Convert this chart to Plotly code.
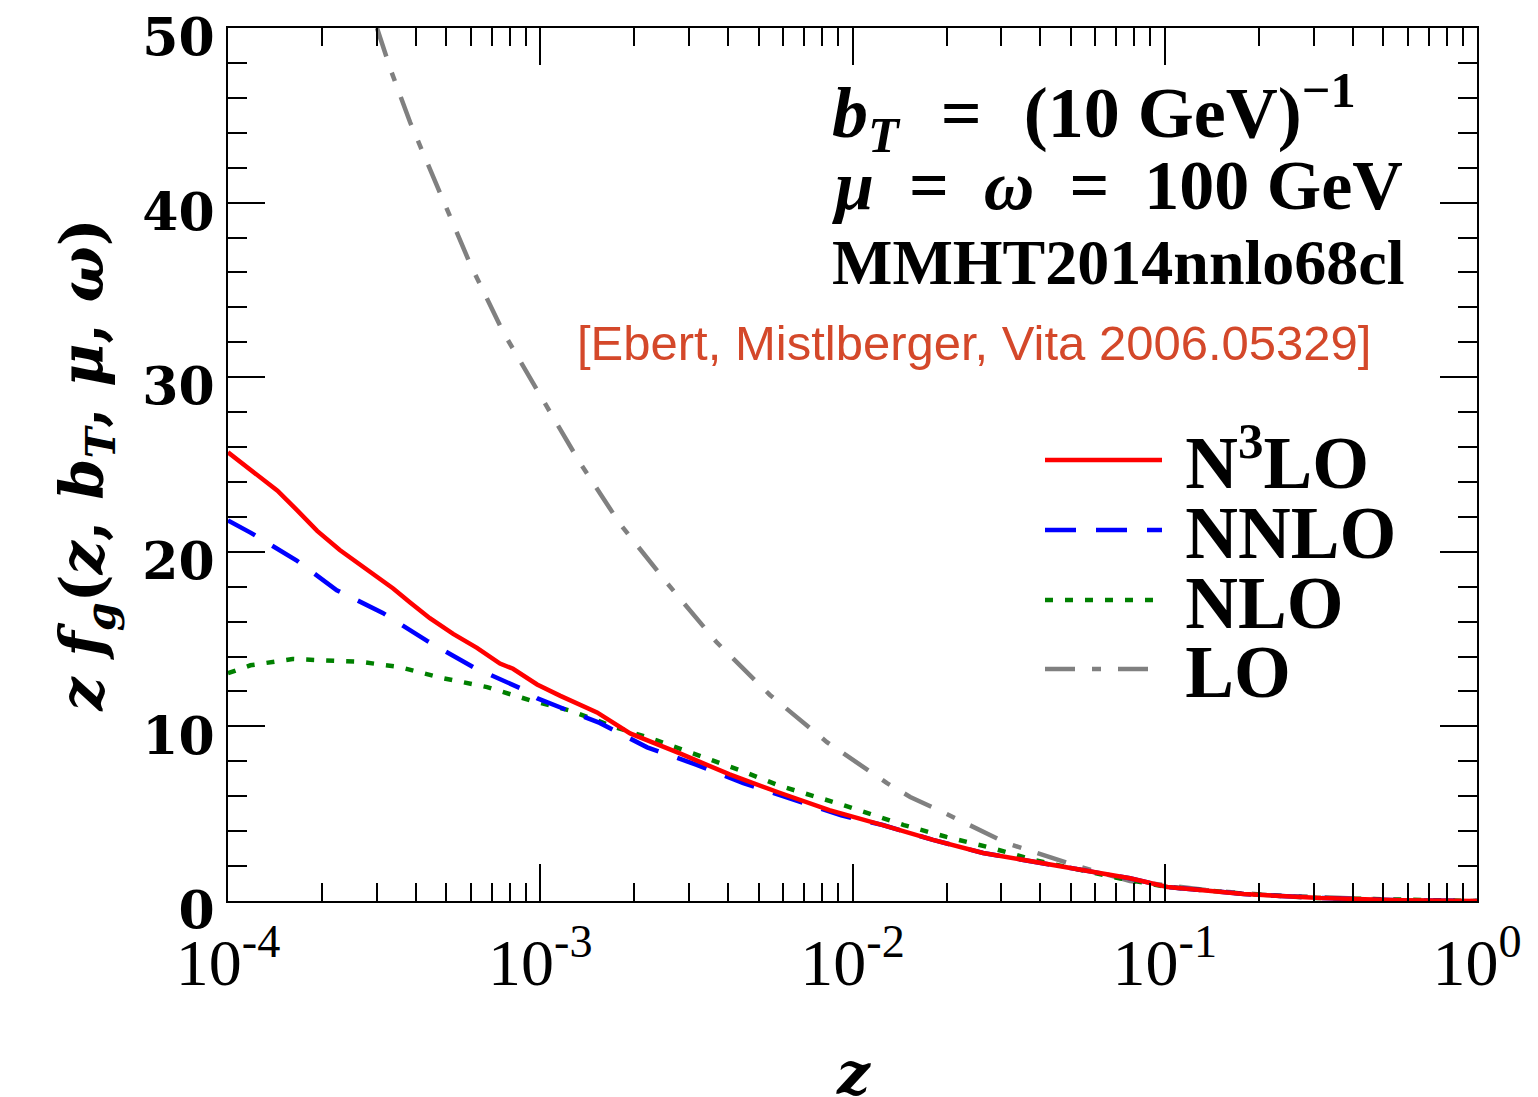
import plotly.graph_objects as go

# ---------------- data ----------------
n3lo_z = [1.0e-4, 1.18e-4, 1.44e-4, 1.66e-4, 1.93e-4, 2.28e-4, 2.79e-4, 3.38e-4, 3.83e-4,
          4.43e-4, 5.26e-4, 6.27e-4, 7.43e-4, 8.18e-4, 9.77e-4, 1.16e-3, 1.52e-3, 1.94e-3,
          2.8e-3, 4.04e-3, 5.84e-3, 8.43e-3, 1.25e-2, 1.81e-2, 2.62e-2, 3.31e-2, 5.05e-2,
          7.74e-2, 0.102, 0.179, 0.316, 0.566, 1.0]
n3lo_v = [25.7, 24.7, 23.5, 22.4, 21.2, 20.1, 19.0, 17.9, 17.1,
          16.2, 15.3, 14.5, 13.6, 13.3, 12.4, 11.75, 10.8, 9.6,
          8.45, 7.25, 6.2, 5.2, 4.35, 3.5, 2.75, 2.45, 1.9,
          1.3, 0.8, 0.4, 0.17, 0.05, 0.0]

nnlo_z = [1.0e-4, 1.18e-4, 1.66e-4, 2.23e-4, 3.13e-4, 4.34e-4, 6.09e-4, 8.6e-4, 9.8e-4,
          1.55e-3, 2.2e-3, 3.17e-3, 4.47e-3, 6.45e-3, 9.2e-3, 1.25e-2, 1.81e-2, 2.62e-2,
          3.31e-2, 5.05e-2, 7.74e-2, 0.102, 0.179, 0.316, 0.566, 1.0]
nnlo_v = [21.8, 21.1, 19.5, 17.8, 16.5, 14.9, 13.4, 12.2, 11.6,
          10.2, 8.8, 7.8, 6.75, 5.8, 4.9, 4.35, 3.5, 2.75,
          2.45, 1.9, 1.3, 0.8, 0.4, 0.17, 0.05, 0.0]

nlo_z = [1.0e-4, 1.18e-4, 1.61e-4, 2.12e-4, 2.65e-4, 3.55e-4, 4.77e-4, 6.76e-4, 9.27e-4,
         1.25e-3, 1.71e-3, 2.36e-3, 3.17e-3, 4.35e-3, 5.84e-3, 8.0e-3, 9.33e-3, 1.25e-2,
         1.46e-2, 2.0e-2, 2.8e-2, 3.81e-2, 5.2e-2, 7.08e-2, 0.102, 0.185, 0.308, 0.566, 1.0]
nlo_v = [13.05, 13.5, 13.86, 13.8, 13.7, 13.4, 12.8, 12.25, 11.5,
         10.9, 10.0, 9.2, 8.4, 7.5, 6.6, 5.9, 5.5, 4.75,
         4.35, 3.67, 3.03, 2.35, 1.83, 1.32, 0.8, 0.4, 0.17, 0.05, 0.0]

lo_z = [3.0e-4, 3.32e-4, 3.83e-4, 4.78e-4, 5.96e-4, 7.6e-4, 9.76e-4, 1.1e-3, 1.34e-3,
        1.8e-3, 2.55e-3, 3.68e-3, 5.44e-3, 8.28e-3, 1.29e-2, 1.53e-2, 1.94e-2, 3.13e-2,
        5.36e-2, 7.74e-2, 0.1355, 0.212, 0.566, 1.0]
lo_v = [50.0, 47.6, 44.6, 40.5, 36.5, 32.6, 29.2, 27.7, 25.1,
        21.6, 18.2, 14.8, 11.8, 9.1, 6.75, 5.96, 5.1, 3.3,
        1.95, 1.15, 0.63, 0.34, 0.05, 0.0]

series_names = ["\u00a0N<sup>3</sup>LO", "\u00a0NNLO", "\u00a0NLO", "\u00a0LO"]

x_tickvals = [1e-4, 1e-3, 1e-2, 1e-1, 1e0]
x_ticktext = ["10<sup>-4</sup>", "10<sup>-3</sup>", "10<sup>-2</sup>", "10<sup>-1</sup>", "10<sup>0</sup>"]
x_minor = [k * 10 ** e for e in (-4, -3, -2, -1) for k in range(2, 10)]

y_tickvals = [0, 10, 20, 30, 40, 50]
y_ticktext = ["0", "10", "20", "30", "40", "50"]

# ---------------- figure ----------------
# page has an 8px body margin; plot area target (page px): x 228..1477, y 28..901
OFF = 8
W, H = 1538 - OFF, 1097 - OFF
PL, PR, PT, PB = 228, 1477, 28, 901
L, T = PL - OFF, PT - OFF
R = W - (PL - OFF) - (PR - PL)
B = H - (PT - OFF) - (PB - PT)

fig = go.Figure()
styles = [
    dict(color="#ff0000", dash="solid"),
    dict(color="#0000ff", dash="31px,20px"),
    dict(color="#008000", dash="8px,12px"),
    dict(color="#808080", dash="30px,17px,9px,17px"),
]
data = [(n3lo_z, n3lo_v), (nnlo_z, nnlo_v), (nlo_z, nlo_v), (lo_z, lo_v)]
legends = ["legend", "legend2", "legend3", "legend4"]
order = [3, 2, 1, 0]  # draw LO first so N3LO on top
for i in order:
    zz, vv = data[i]
    fig.add_trace(go.Scatter(
        x=zz, y=vv, mode="lines", name=series_names[i],
        line=dict(color=styles[i]["color"], dash=styles[i]["dash"], width=4.5),
        legend=legends[i], showlegend=True,
    ))


def py(pix):
    return (PB - pix) / (PB - PT)


def px(pix):
    return (pix - PL) / (PR - PL)


leg_rows = [460, 530, 600, 669]
leg_common = dict(
    font=dict(family="Liberation Serif", size=73, color="black", weight="bold"),
    bgcolor="rgba(0,0,0,0)", borderwidth=0, itemwidth=117,
    xanchor="left", yanchor="middle", x=px(1040),
)
layout_legends = {}
for k, name in enumerate(legends):
    layout_legends[name] = dict(leg_common, y=py(leg_rows[k]))

axis_font = dict(family="Liberation Serif", size=66, color="black")
fig.update_layout(
    width=W, height=H,
    margin=dict(l=L, r=R, t=T, b=B, autoexpand=False),
    paper_bgcolor="white", plot_bgcolor="white",
    **layout_legends,
    xaxis=dict(
        type="log", range=[-4, 0], showgrid=False, zeroline=False,
        showline=True, linecolor="black", linewidth=2, mirror="allticks",
        ticks="inside", ticklen=37, tickwidth=2, tickcolor="black",
        tickmode="array", tickvals=x_tickvals, ticktext=x_ticktext,
        tickfont=axis_font, ticklabelstandoff=3, ticklabeloverflow="allow",
        minor=dict(ticks="inside", ticklen=18, tickwidth=2, tickcolor="black",
                   tickmode="array", tickvals=x_minor, showgrid=False),
    ),
    yaxis=dict(
        range=[0, 50.0001], showgrid=False, zeroline=False,
        showline=True, linecolor="black", linewidth=2, mirror="allticks",
        ticks="inside", ticklen=37, tickwidth=2, tickcolor="black",
        tickmode="array", tickvals=y_tickvals, ticktext=y_ticktext,
        tickfont=dict(family="DejaVu Serif", size=52, color="black", weight="bold"),
        ticklabelstandoff=1, ticklabelshift=9, ticklabeloverflow="allow",
        minor=dict(ticks="inside", ticklen=19, tickwidth=2, tickcolor="black",
                   dtick=2, tick0=0, showgrid=False),
        title=dict(text="<b><i>z f</i><sub><i>g</i></sub>(<i>z</i>, <i>b</i><sub><i>T</i></sub>, <i>μ</i>, <i>ω</i>)</b>",
                   font=dict(family="DejaVu Serif", size=59, color="black"),
                   standoff=20),
    ),
)

# x-axis title
fig.add_annotation(xref="paper", yref="paper", x=px(853), y=py(1074), xanchor="center", yanchor="middle",
                   showarrow=False, font=dict(family="DejaVu Serif", size=58, color="black"),
                   text="<b><i>z</i></b>")

ann_font = dict(family="Liberation Serif", size=64, color="black")
fig.add_annotation(xref="paper", yref="paper", x=px(830), y=py(113), xanchor="left", yanchor="middle",
                   showarrow=False, font=dict(family="Liberation Serif", size=72, color="black"),
                   text="<b><i>b</i><sub><i>T</i></sub>\u2002\u200a=\u2002\u200a(10 GeV)<sup>−1</sup></b>")
fig.add_annotation(xref="paper", yref="paper", x=px(830), y=py(185), xanchor="left", yanchor="middle",
                   showarrow=False, font=dict(family="Liberation Serif", size=70, color="black"),
                   text="<b><i>μ</i>\u2002=\u2002<i>ω</i>\u2002=\u2002100 GeV</b>")
fig.add_annotation(xref="paper", yref="paper", x=px(830), y=py(262), xanchor="left", yanchor="middle",
                   showarrow=False, font=ann_font,
                   text="<b>MMHT2014nnlo68cl</b>")
fig.add_annotation(xref="paper", yref="paper", x=px(575), y=py(343), xanchor="left", yanchor="middle",
                   showarrow=False,
                   font=dict(family="Liberation Sans", size=49, color="#d4482a"),
                   text="[Ebert, Mistlberger, Vita 2006.05329]")

fig.write_html("out.html")
